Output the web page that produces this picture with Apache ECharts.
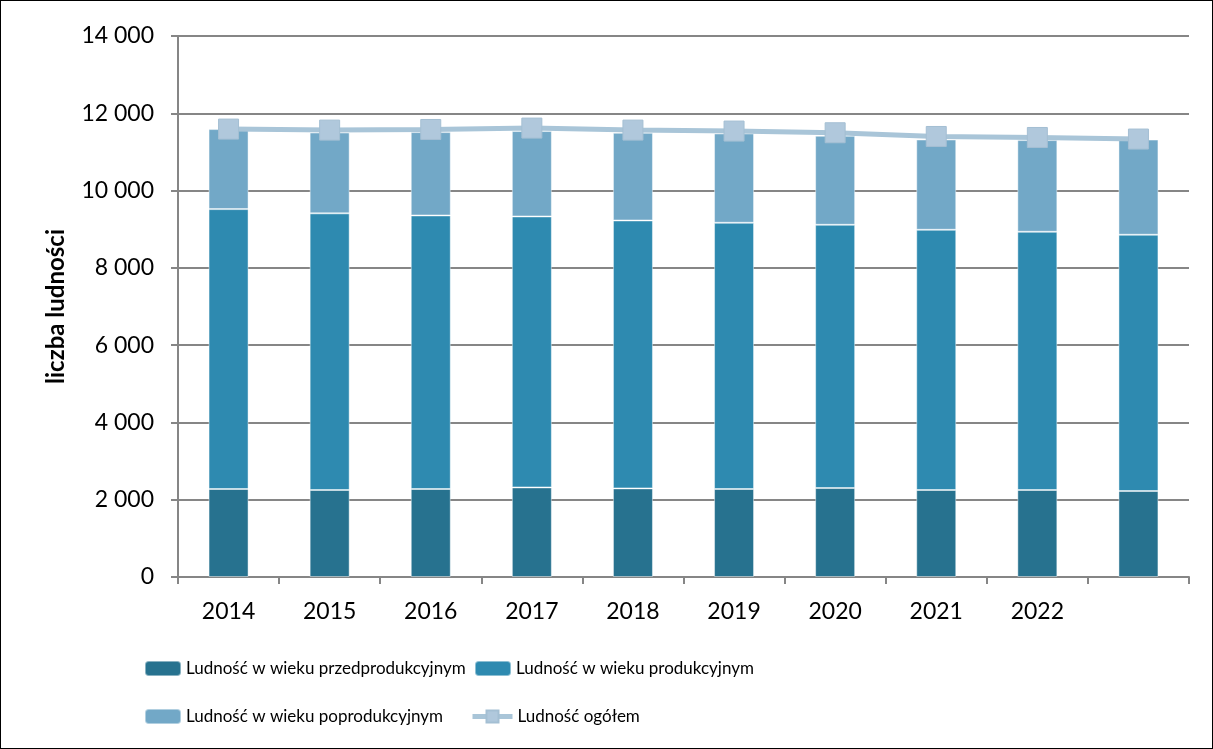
<!DOCTYPE html>
<html>
<head>
<meta charset="utf-8">
<script src="https://cdn.jsdelivr.net/npm/echarts@6/dist/echarts.min.js"></script>
<style>
  html, body { margin: 0; padding: 0; background: #fff; }
  #chart { width: 1211px; height: 747px; border: 1px solid #000; }
</style>
</head>
<body>
<div id="chart"></div>
<script>
// dane
const years = ['2014', '2015', '2016', '2017', '2018', '2019', '2020', '2021', '2022', '']
const przedprodukcyjny = [2277, 2251, 2277, 2318, 2293, 2277, 2302, 2251, 2251, 2225]
const produkcyjny = [7243, 7159, 7079, 7012, 6933, 6890, 6813, 6735, 6683, 6632]
const poprodukcyjny = [2071, 2093, 2157, 2210, 2270, 2311, 2303, 2336, 2372, 2463]
const ogolem = [11591, 11565, 11581, 11617, 11565, 11540, 11496, 11400, 11374, 11333]

const FONT = 'Lato'

function fmt(v) {
  return String(v).replace(/\B(?=(\d{3})+(?!\d))/g, ' ')
}

const chart = echarts.init(document.getElementById('chart'))

const barStyle = (color) => ({
  color: color,
  borderColor: 'rgba(255,255,255,0.45)',
  borderWidth: 1
})

// jedna legenda na pozycję, żeby ustawić je jak w oryginale
function legendItem(name, left, top, extra) {
  return Object.assign({
    left: left, top: top, itemWidth: 36, itemHeight: 15, itemGap: 4,
    textStyle: { fontFamily: FONT, fontSize: 17, color: '#000' },
    data: [name]
  }, extra || {})
}

const option = {
  animation: false,
  textStyle: { fontFamily: FONT },
  grid: { left: 177, right: 23, top: 35, bottom: 171, containLabel: false },
  legend: [
    legendItem('Ludność w wieku przedprodukcyjnym', 138, 654),
    legendItem('Ludność w wieku produkcyjnym', 468, 654),
    legendItem('Ludność w wieku poprodukcyjnym', 138, 702),
    legendItem('Ludność ogółem', 464, 702, { itemWidth: 40, lineStyle: { width: 5, color: '#a9c5d8' } })
  ],
  xAxis: {
    type: 'category',
    data: years,
    axisLine: { lineStyle: { color: '#868686', width: 2 } },
    axisTick: { show: true, alignWithLabel: false, length: 7, lineStyle: { color: '#868686', width: 2 } },
    axisLabel: { color: '#000', fontSize: 23, margin: 23, fontFamily: FONT }
  },
  yAxis: {
    type: 'value',
    min: 0, max: 14000, interval: 2000,
    name: 'liczba ludności',
    nameLocation: 'middle',
    nameGap: 110,
    nameTextStyle: { fontWeight: 'bold', fontSize: 24, color: '#000', fontFamily: FONT },
    axisLine: { show: true, lineStyle: { color: '#868686', width: 2 } },
    axisTick: { show: true, length: 7, lineStyle: { color: '#868686', width: 2 } },
    axisLabel: { color: '#000', fontSize: 23, margin: 24, formatter: fmt, fontFamily: FONT },
    splitLine: { lineStyle: { color: '#868686', width: 2 } }
  },
  series: [
    {
      name: 'Ludność w wieku przedprodukcyjnym', type: 'bar', stack: 'a',
      barWidth: 40, data: przedprodukcyjny, itemStyle: barStyle('#27728f')
    },
    {
      name: 'Ludność w wieku produkcyjnym', type: 'bar', stack: 'a',
      barWidth: 40, data: produkcyjny, itemStyle: barStyle('#2e8ab0')
    },
    {
      name: 'Ludność w wieku poprodukcyjnym', type: 'bar', stack: 'a',
      barWidth: 40, data: poprodukcyjny, itemStyle: barStyle('#72a8c7')
    },
    {
      name: 'Ludność ogółem', type: 'line', data: ogolem,
      symbol: 'rect', symbolSize: 20,
      lineStyle: { color: '#a9c5d8', width: 5 },
      itemStyle: { color: '#b0c8dc', borderColor: '#a4bfd3', borderWidth: 1 },
      z: 5
    }
  ]
}

chart.setOption(option)
</script>
</body>
</html>
